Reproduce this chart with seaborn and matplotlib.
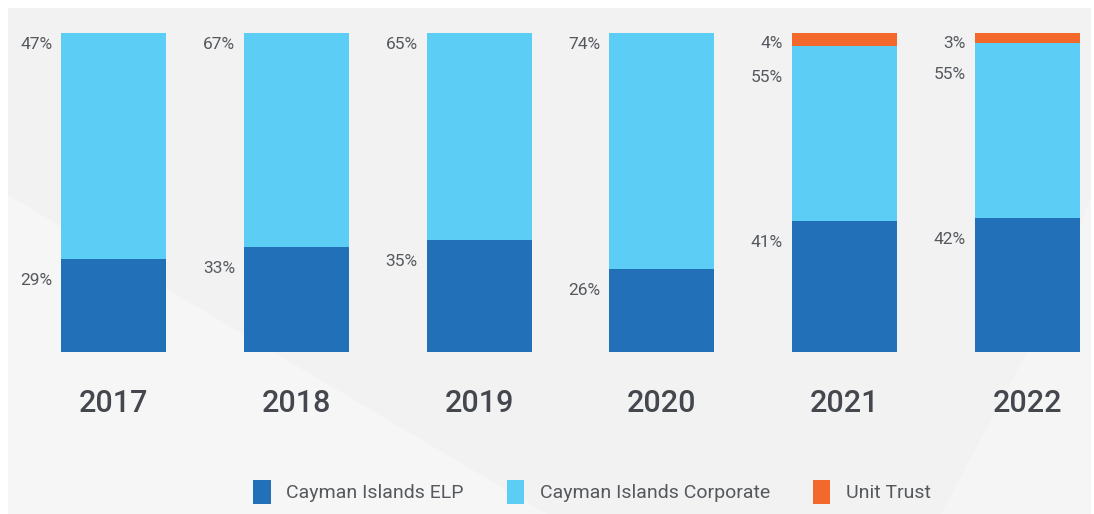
"""Cayman Islands structures by year - stacked share bars."""
import matplotlib.pyplot as plt
import matplotlib.patches as mpatches
import numpy as np
import pandas as pd
import seaborn as sns

# ---------------------------------------------------------------------------
# Data
# ---------------------------------------------------------------------------
years = ["2017", "2018", "2019", "2020", "2021", "2022"]
elp = [29, 33, 35, 26, 41, 42]
corporate = [47, 67, 65, 74, 55, 55]
unit_trust = [0, 0, 0, 0, 4, 3]

series_names = ["Cayman Islands ELP", "Cayman Islands Corporate", "Unit Trust"]
palette = ["#2271b8", "#5ccdf4", "#f3692b"]

TEXT_GREY = "#55595e"
YEAR_GREY = "#44484e"

sns.set_theme(style="white")
plt.rcParams["font.family"] = ["Roboto", "DejaVu Sans"]

df = pd.DataFrame({"year": years, "elp": elp, "corporate": corporate,
                   "unit_trust": unit_trust})
# each bar is drawn full height: corporate fills what ELP and unit trust leave
df["corp_top"] = 100 - df["unit_trust"]
df["elp_top"] = df["elp"]
df["ut_top"] = 100

fig = plt.figure(figsize=(10.94, 5.14), dpi=100)
fig.patch.set_facecolor("white")
fig.patches.append(mpatches.Rectangle((8 / 1094, 0), 1083 / 1094, 506 / 514,
                                      transform=fig.transFigure,
                                      facecolor="#f2f2f2", edgecolor="none",
                                      zorder=-2))
# faint lighter sweeps in the background
fig.patches.append(mpatches.Polygon([(8 / 1094, 0.62), (8 / 1094, 0), (0.50, 0)],
                                     closed=True, transform=fig.transFigure,
                                     facecolor="#f6f6f6", edgecolor="none",
                                     zorder=-1))
fig.patches.append(mpatches.Polygon([(0.86, 0), (1091 / 1094, 0),
                                     (1091 / 1094, 0.62), (0.96, 0.40)],
                                    closed=True, transform=fig.transFigure,
                                    facecolor="#f5f5f5", edgecolor="none",
                                    zorder=-1))

ax = fig.add_axes([50 / 1094, 162 / 514, 1041 / 1094, 319 / 514])
ax.set_facecolor("none")
ax.set_zorder(2)

bar_w = 0.575
# paint top-down so the lower segments overlay the upper ones
for col, colour in [("ut_top", palette[2]), ("corp_top", palette[1]),
                    ("elp_top", palette[0])]:
    sns.barplot(data=df, x="year", y=col, color=colour, width=bar_w,
                saturation=1, edgecolor="none", ax=ax)

ax.set_xlim(-0.35, len(years) - 0.65)
ax.set_ylim(0, 100)

# value labels, right-aligned just left of each bar at the top of its segment
for i, row in df.iterrows():
    left = i - bar_w / 2
    labels = [(row["elp_top"], row["elp"], -14)]
    if row["unit_trust"] > 0:
        labels.append((row["corp_top"], row["corporate"], -24))
        labels.append((row["ut_top"], row["unit_trust"], -3))
    else:
        labels.append((row["corp_top"], row["corporate"], -4))
    for top, val, dy in labels:
        ax.annotate(f"{val}%", xy=(left, top), xytext=(-9, dy),
                    textcoords="offset pixels", ha="right", va="top",
                    fontsize=12.5, color=TEXT_GREY)

ax.set_xlabel("")
ax.set_ylabel("")
ax.set_yticks([])
ax.tick_params(axis="x", length=0, pad=27, labelsize=22, labelcolor=YEAR_GREY)
for lbl in ax.get_xticklabels():
    lbl.set_fontweight("medium")
sns.despine(ax=ax, left=True, bottom=True)

handles = [mpatches.Patch(facecolor=c, edgecolor="none", label=n)
           for n, c in zip(series_names, palette)]
fig.legend(handles=handles, loc="center", bbox_to_anchor=(592 / 1094, 22 / 514),
           ncol=3, frameon=False, fontsize=14, labelcolor=TEXT_GREY,
           handlelength=0.9, handleheight=1.5, handletextpad=0.8,
           columnspacing=2.2)

fig.savefig("out.png", dpi=100, facecolor=fig.get_facecolor())
plt.close(fig)
